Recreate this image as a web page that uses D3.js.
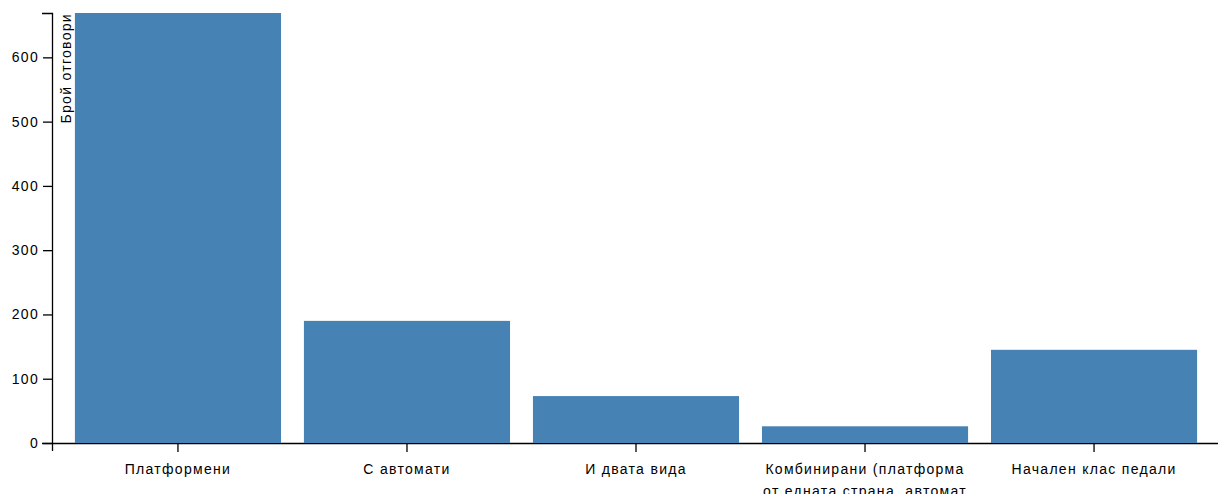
<!DOCTYPE html>
<html>
<head>
<meta charset="utf-8">
<script src="https://cdn.jsdelivr.net/npm/d3@7"></script>
<style>
  html, body { margin: 0; padding: 0; background: #fff; overflow: hidden; }
  svg text { font-family: "Liberation Sans", Arial, Helvetica, sans-serif; font-size: 14px; letter-spacing: 1.3px; fill: #000; }
  .axis path, .axis line { stroke: #000; stroke-width: 1.3; }
</style>
</head>
<body>
<svg id="chart" width="1218" height="494"></svg>
<script>
const categories = [
  "Платформени",
  "С автомати",
  "И двата вида",
  "Комбинирани (платформа от едната страна, автомат от другата)",
  "Начален клас педали"
];
const values = [669, 190, 73, 26, 145];
const yTicks = [0, 100, 200, 300, 400, 500, 600];
const yLabel = "Брой отговори";

const margin = {top: 13, right: -2, bottom: 51, left: 52};
const W = 1218, H = 494;
const width = W - margin.left - margin.right;
const height = H - margin.top - margin.bottom;

const svg = d3.select("#chart");
const g = svg.append("g").attr("transform", `translate(${margin.left},${margin.top})`);

const x = d3.scaleBand().domain(categories).range([0, width]).paddingInner(0.1).paddingOuter(0.1);
const y = d3.scaleLinear().domain([0, d3.max(values)]).range([height, 0]);

const xAxis = g.append("g").attr("class", "axis x")
  .attr("transform", `translate(0,${height})`)
  .call(d3.axisBottom(x).tickSize(9).tickSizeOuter(8));
xAxis.selectAll("text").attr("y", 21).attr("dy", "0.71em").call(wrap, x.bandwidth());

const yAxis = g.append("g").attr("class", "axis y")
  .call(d3.axisLeft(y).tickValues(yTicks).tickSize(9).tickSizeOuter(10).tickPadding(4));

yAxis.append("text")
  .attr("transform", "rotate(-90)")
  .attr("x", 0)
  .attr("y", 9)
  .attr("dy", "0.71em")
  .attr("text-anchor", "end")
  .attr("fill", "#000")
  .text(yLabel);

g.selectAll(".bar")
  .data(values)
  .enter().append("rect")
  .attr("class", "bar")
  .attr("x", (d, i) => x(categories[i]))
  .attr("y", d => y(d))
  .attr("width", x.bandwidth())
  .attr("height", d => height - y(d))
  .attr("fill", "steelblue");

function wrap(text, w) {
  text.each(function() {
    const t = d3.select(this);
    const words = t.text().split(/\s+/).reverse();
    let word, line = [], lineNumber = 0;
    const lineHeight = 1.6;
    const yy = t.attr("y");
    const dy = parseFloat(t.attr("dy"));
    let tspan = t.text(null).append("tspan").attr("x", 0).attr("y", yy).attr("dy", dy + "em");
    while ((word = words.pop())) {
      line.push(word);
      tspan.text(line.join(" "));
      if (tspan.node().getComputedTextLength() > w && line.length > 1) {
        line.pop();
        tspan.text(line.join(" "));
        line = [word];
        tspan = t.append("tspan").attr("x", 0).attr("y", yy).attr("dy", ++lineNumber * lineHeight + dy + "em").text(word);
      }
    }
  });
}
</script>
</body>
</html>
